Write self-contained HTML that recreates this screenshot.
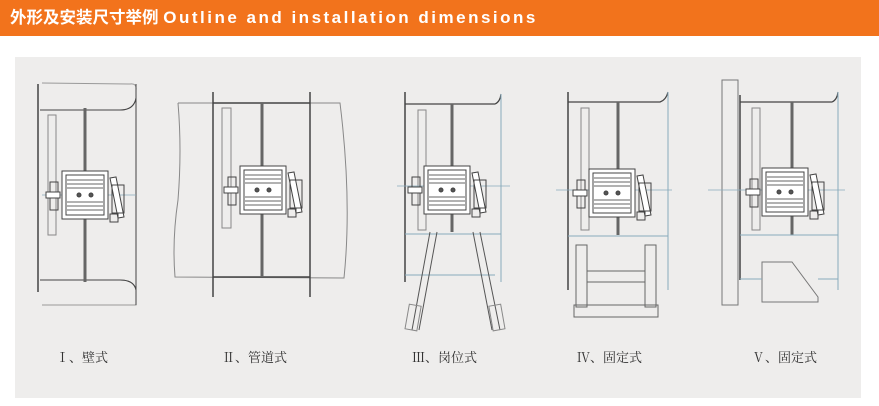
<!DOCTYPE html>
<html><head><meta charset="utf-8"><style>
html,body{margin:0;padding:0;background:#fff;width:879px;height:406px;overflow:hidden}
.bar{position:absolute;left:0;top:0;width:879px;height:36px;background:#f2731c}
.bar div{position:absolute;left:10px;top:7px;color:#fff;font:bold 17px "Liberation Sans","Noto Sans CJK SC",sans-serif;white-space:nowrap;line-height:22px}
.panel{position:absolute;left:15px;top:57px;width:846px;height:341px;background:#eeedec}
svg{position:absolute;left:0;top:0}
.lb{position:absolute;top:347px;font:13px "Liberation Serif","Noto Serif CJK SC",serif;color:#333}
</style></head><body>
<div class="bar"><div><span style="font-size:16.5px">外形及安装尺寸举例</span> <span style="letter-spacing:2.5px">Outline and installation dimensions</span></div></div>
<div class="panel"></div>
<svg width="879" height="406" viewBox="0 0 879 406">
<defs>
<g id="m" fill="none" stroke="#444" stroke-width="1">
 <rect x="-23" y="-24" width="46" height="48" fill="#fff"/>
 <rect x="-19" y="-20" width="38" height="40" fill="#fff"/>
 <g stroke="#666"><line x1="-18" y1="-15" x2="18" y2="-15"/><line x1="-18" y1="-11" x2="18" y2="-11"/><line x1="-18" y1="-7" x2="18" y2="-7"/><line x1="-18" y1="7" x2="18" y2="7"/><line x1="-18" y1="11" x2="18" y2="11"/><line x1="-18" y1="15" x2="18" y2="15"/></g>
 <circle cx="-6" cy="0" r="2" fill="#555"/><circle cx="6" cy="0" r="2" fill="#555"/>
 <rect x="-35" y="-13" width="8" height="28"/>
 <rect x="-39" y="-3" width="14" height="6" fill="#fff"/>
 <polygon points="25,-17 31,-18 39,22 33,23" fill="#fff"/>
 <rect x="27" y="-10" width="12" height="28"/>
 <rect x="25" y="19" width="8" height="8"/>
</g>
</defs>
<g fill="none" stroke="#444" stroke-width="1">
<path d="M42 83 L130 84 Q137 83 136 90 L136 98 Q134 110 120 110 L40 110" stroke="#999"/>
<path d="M40 110 L120 110 Q134 110 136 98" />
<path d="M40 280 L120 280 Q134 280 136 290 L136 305 L42 305" stroke="#999"/>
<path d="M40 280 L120 280 Q134 280 136 290"/>
<line x1="38" y1="84" x2="38" y2="292" stroke-width="1.5"/>
<line x1="136" y1="84" x2="136" y2="305"/>
<rect x="48" y="115" width="8" height="120" stroke="#888"/>
<line x1="85" y1="108" x2="85" y2="282" stroke="#666" stroke-width="3"/>
<line x1="42" y1="195" x2="136" y2="195" stroke="#8ab" stroke-width="0.7"/>
<use href="#m" x="85" y="195"/>
<path d="M178 103 L340 103 Q352 200 344 278 L175 277 Q172 240 178 200 Q182 150 178 103" stroke="#888"/>
<line x1="213" y1="92" x2="213" y2="297" stroke-width="1.5"/>
<line x1="310" y1="92" x2="310" y2="297" stroke-width="1.5"/>
<line x1="213" y1="103" x2="310" y2="103" stroke-width="1.5"/>
<line x1="213" y1="277" x2="310" y2="277" stroke-width="1.5"/>
<rect x="222" y="108" width="9" height="120" stroke="#888"/>
<line x1="262" y1="103" x2="262" y2="277" stroke="#666" stroke-width="3"/>
<use href="#m" x="263" y="190"/>
<path d="M405 104 L495 104 Q500 102 501 94" stroke-width="1.2"/>
<line x1="405" y1="92" x2="405" y2="282" stroke-width="1.5"/>
<line x1="501" y1="94" x2="501" y2="282" stroke="#8ab"/>
<rect x="418" y="110" width="8" height="120" stroke="#888"/>
<line x1="452" y1="104" x2="452" y2="232" stroke="#666" stroke-width="3"/>
<line x1="397" y1="186" x2="510" y2="186" stroke="#8ab" stroke-width="0.7"/>
<line x1="405" y1="234" x2="501" y2="234" stroke="#8ab"/>
<line x1="405" y1="275" x2="495" y2="275" stroke="#8ab"/>
<use href="#m" x="447" y="190"/>
<path d="M430 232 L412 330 M437 232 L419 330 M473 232 L492 330 M480 232 L500 330" stroke="#555"/>
<rect x="407" y="305" width="12" height="25" stroke="#888" transform="rotate(10 413 318)"/>
<rect x="491" y="305" width="12" height="25" stroke="#888" transform="rotate(-10 497 318)"/>
<path d="M568 102 L660 102 Q666 100 668 92" stroke-width="1.2"/>
<line x1="568" y1="92" x2="568" y2="290" stroke-width="1.5"/>
<line x1="668" y1="92" x2="668" y2="290" stroke="#8ab"/>
<rect x="581" y="108" width="8" height="122" stroke="#888"/>
<line x1="618" y1="102" x2="618" y2="235" stroke="#666" stroke-width="3"/>
<line x1="556" y1="190" x2="672" y2="190" stroke="#8ab" stroke-width="0.7"/>
<line x1="568" y1="236" x2="668" y2="236" stroke="#8ab"/>
<use href="#m" x="612" y="193"/>
<g stroke="#666"><rect x="576" y="245" width="11" height="62"/><rect x="645" y="245" width="11" height="62"/><rect x="574" y="305" width="84" height="12"/><line x1="587" y1="271" x2="645" y2="271"/><line x1="587" y1="282" x2="645" y2="282"/></g>
<rect x="722" y="80" width="16" height="225" stroke="#777"/>
<path d="M740 102 L832 102 Q837 100 838 92" stroke-width="1.2"/>
<line x1="740" y1="95" x2="740" y2="280" stroke-width="1.5"/>
<line x1="838" y1="92" x2="838" y2="290" stroke="#8ab"/>
<rect x="752" y="108" width="8" height="122" stroke="#888"/>
<line x1="792" y1="102" x2="792" y2="235" stroke="#666" stroke-width="3"/>
<line x1="708" y1="190" x2="845" y2="190" stroke="#8ab" stroke-width="0.7"/>
<line x1="740" y1="235" x2="838" y2="235" stroke="#8ab"/>
<use href="#m" x="785" y="192"/>
<path d="M762 262 L792 262 L818 297 L818 302 L762 302 Z" stroke="#777"/>
<line x1="740" y1="279" x2="762" y2="279" stroke="#8ab"/>
<line x1="818" y1="279" x2="838" y2="279" stroke="#8ab"/>
</g>
</svg>
<div class="lb" style="left:56px">Ⅰ、壁式</div>
<div class="lb" style="left:222px">Ⅱ、管道式</div>
<div class="lb" style="left:412px">Ⅲ、岗位式</div>
<div class="lb" style="left:577px">Ⅳ、固定式</div>
<div class="lb" style="left:752px">Ⅴ、固定式</div>
</body></html>
